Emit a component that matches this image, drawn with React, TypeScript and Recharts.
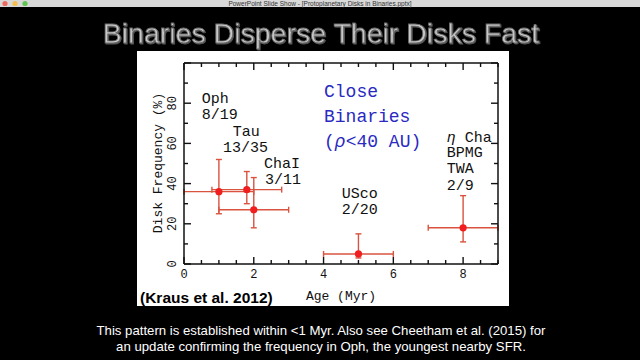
import { ScatterChart, Scatter, XAxis, YAxis, ErrorBar } from "recharts";

const regions = ["Oph", "Tau", "ChaI", "USco", "ηCha"];
const ages = [1, 1.8, 2, 5, 8];
const diskFreq = [36, 37, 27, 5, 18];
const ageErr: [number, number][] = [[1, 1], [1, 1], [1, 1], [1, 1], [1, 1]];
const freqErr: [number, number][] = [[11, 16], [7, 9], [9, 16], [2, 10], [7, 16]];

const xTicks = [0, 0.5, 1, 1.5, 2, 2.5, 3, 3.5, 4, 4.5, 5, 5.5, 6, 6.5, 7, 7.5, 8, 8.5, 9];
const yTicks = [0, 10, 20, 30, 40, 50, 60, 70, 80, 90, 100];
const xLabels = [0, 2, 4, 6, 8];
const yLabels = [0, 20, 40, 60, 80];

const data = regions.map((name, i) => ({
  name,
  age: ages[i],
  freq: diskFreq[i],
  ex: ageErr[i],
  ey: freqErr[i],
}));

const ink = "#111";
const red = "#f01e1e";
const errRed = "#d9533f";
const mono = "'Liberation Mono', 'DejaVu Sans Mono', monospace";
const sans = "'Liberation Sans', Arial, sans-serif";

const isMajorX = (v: number) => v % 2 === 0;
const isMajorY = (v: number) => v % 20 === 0;

function BottomTick({ x, y, payload }: any) {
  const major = isMajorX(payload.value);
  return (
    <g>
      <line x1={x} x2={x} y1={y} y2={y - (major ? 7 : 4)} stroke={ink} strokeWidth={1.4} />
      {major && xLabels.includes(payload.value) && (
        <text x={x} y={y + 14} textAnchor="middle" fontSize={12} fontFamily={mono} fill={ink}>
          {payload.value}
        </text>
      )}
    </g>
  );
}

function TopTick({ x, y, payload }: any) {
  const major = isMajorX(payload.value);
  return <line x1={x} x2={x} y1={y} y2={y + (major ? 7 : 4)} stroke={ink} strokeWidth={1.4} />;
}

function LeftTick({ x, y, payload }: any) {
  const major = isMajorY(payload.value);
  return (
    <g>
      <line x1={x} x2={x + (major ? 7 : 4)} y1={y} y2={y} stroke={ink} strokeWidth={1.4} />
      {yLabels.includes(payload.value) && (
        <text
          x={x - 8}
          y={y}
          transform={`rotate(-90 ${x - 8} ${y})`}
          textAnchor="middle"
          fontSize={12}
          fontFamily={mono}
          fill={ink}
        >
          {payload.value}
        </text>
      )}
    </g>
  );
}

function RightTick({ x, y, payload }: any) {
  const major = isMajorY(payload.value);
  return <line x1={x} x2={x - (major ? 7 : 4)} y1={y} y2={y} stroke={ink} strokeWidth={1.4} />;
}

function Dot({ cx, cy }: any) {
  return <circle cx={cx} cy={cy} r={3.6} fill={red} />;
}

const labelStyle = { fontFamily: mono, fontSize: 15, fill: ink };
const blueStyle = { fontFamily: mono, fontSize: 18, fill: "#2a2ac0" };

export default function App() {
  return (
    <div
      style={{
        position: "fixed",
        left: 0,
        top: 0,
        width: 640,
        height: 360,
        background: "#000",
        overflow: "hidden",
      }}
    >
      <div
        style={{
          position: "absolute",
          left: 137,
          top: 51,
          width: 372,
          height: 255,
          background: "#fff",
        }}
      >
        <ScatterChart width={372} height={255} margin={{ top: 0, right: 0, bottom: 0, left: 0 }}>
          <XAxis
            xAxisId="b"
            type="number"
            dataKey="age"
            domain={[0, 9]}
            ticks={xTicks}
            interval={0}
            allowDataOverflow
            height={42}
            tickSize={0}
            tickMargin={0}
            tickLine={false}
            axisLine={{ stroke: ink, strokeWidth: 1.5 }}
            tick={BottomTick}
          />
          <XAxis
            xAxisId="t"
            orientation="top"
            type="number"
            dataKey="age"
            domain={[0, 9]}
            ticks={xTicks}
            interval={0}
            allowDataOverflow
            height={12}
            tickSize={0}
            tickMargin={0}
            tickLine={false}
            axisLine={{ stroke: ink, strokeWidth: 1.5 }}
            tick={TopTick}
          />
          <YAxis
            yAxisId="l"
            type="number"
            dataKey="freq"
            domain={[0, 100]}
            ticks={yTicks}
            interval={0}
            allowDataOverflow
            width={47}
            tickSize={0}
            tickMargin={0}
            tickLine={false}
            axisLine={{ stroke: ink, strokeWidth: 1.5 }}
            tick={LeftTick}
          />
          <YAxis
            yAxisId="r"
            orientation="right"
            type="number"
            dataKey="freq"
            domain={[0, 100]}
            ticks={yTicks}
            interval={0}
            allowDataOverflow
            width={11}
            tickSize={0}
            tickMargin={0}
            tickLine={false}
            axisLine={{ stroke: ink, strokeWidth: 1.5 }}
            tick={RightTick}
          />
          <Scatter
            data={data}
            xAxisId="b"
            yAxisId="l"
            dataKey="freq"
            shape={Dot}
            isAnimationActive={false}
          >
            <ErrorBar dataKey="ex" direction="x" width={3} stroke={errRed} strokeWidth={1.4} />
            <ErrorBar dataKey="ey" direction="y" width={3} stroke={errRed} strokeWidth={1.4} />
          </Scatter>
          <Scatter data={data} xAxisId="t" yAxisId="r" dataKey="freq" shape={() => null} isAnimationActive={false} />
        </ScatterChart>
      </div>

      <svg width={640} height={360} style={{ position: "absolute", left: 0, top: 0, pointerEvents: "none" }}>
        {/* window bar */}
        <rect x={0} y={0} width={640} height={7} fill="#d9d9d9" />
        <circle cx={5} cy={3.5} r={2.6} fill="#ec6a5e" />
        <circle cx={15} cy={3.5} r={2.6} fill="#f4bf4f" />
        <circle cx={25} cy={3.5} r={2.6} fill="#61c554" />
        <text x={320} y={6} textAnchor="middle" fontSize={6.5} fontFamily={sans} fill="#333">
          PowerPoint Slide Show - [Protoplanetary Disks in Binaries.pptx]
        </text>

        {/* slide title */}
        <text
          x={321}
          y={43}
          textAnchor="middle"
          fontSize={28.5}
          fontFamily={sans}
          fill="#c8c8c8"
          stroke="#6a6a6a"
          strokeWidth={0.8}
          style={{ filter: "drop-shadow(1px 1px 0 #555)" }}
        >
          Binaries Disperse Their Disks Fast
        </text>

        {/* group labels */}
        <text x={201.7} y={103.3} {...labelStyle}>Oph</text>
        <text x={201.7} y={119} {...labelStyle}>8/19</text>
        <text x={232.7} y={136} {...labelStyle}>Tau</text>
        <text x={223} y={151.7} {...labelStyle}>13/35</text>
        <text x={264} y={167.7} {...labelStyle}>ChaI</text>
        <text x={265} y={184} {...labelStyle}>3/11</text>
        <text x={341.7} y={198.3} {...labelStyle}>USco</text>
        <text x={341.7} y={214.3} {...labelStyle}>2/20</text>
        <text x={446.7} y={142} {...labelStyle}>
          <tspan fontStyle="italic">η</tspan> Cha
        </text>
        <text x={446.7} y={157.3} {...labelStyle}>BPMG</text>
        <text x={446.7} y={173.3} {...labelStyle}>TWA</text>
        <text x={446.7} y={190} {...labelStyle}>2/9</text>

        <text x={324} y={97.3} {...blueStyle}>Close</text>
        <text x={324} y={122.3} {...blueStyle}>Binaries</text>
        <text x={324} y={147.3} {...blueStyle}>
          (<tspan fontStyle="italic">ρ</tspan>&lt;40 AU)
        </text>

        {/* axis titles */}
        <text
          x={162}
          y={163}
          transform="rotate(-90 162 163)"
          textAnchor="middle"
          fontSize={13}
          fontFamily={mono}
          fill={ink}
        >
          Disk Frequency (%)
        </text>
        <text x={341} y={300} textAnchor="middle" fontSize={13} fontFamily={mono} fill={ink}>
          Age (Myr)
        </text>

        <text x={140} y={303} fontSize={15.5} fontWeight="bold" fontFamily={sans} fill="#000">
          (Kraus et al. 2012)
        </text>

        {/* caption */}
        <text x={321} y={334.5} textAnchor="middle" fontSize={13.2} fontFamily={sans} fill="#fff">
          This pattern is established within &lt;1 Myr. Also see Cheetham et al. (2015) for
        </text>
        <text x={321} y={351} textAnchor="middle" fontSize={13.2} fontFamily={sans} fill="#fff">
          an update confirming the frequency in Oph, the youngest nearby SFR.
        </text>
      </svg>
    </div>
  );
}
